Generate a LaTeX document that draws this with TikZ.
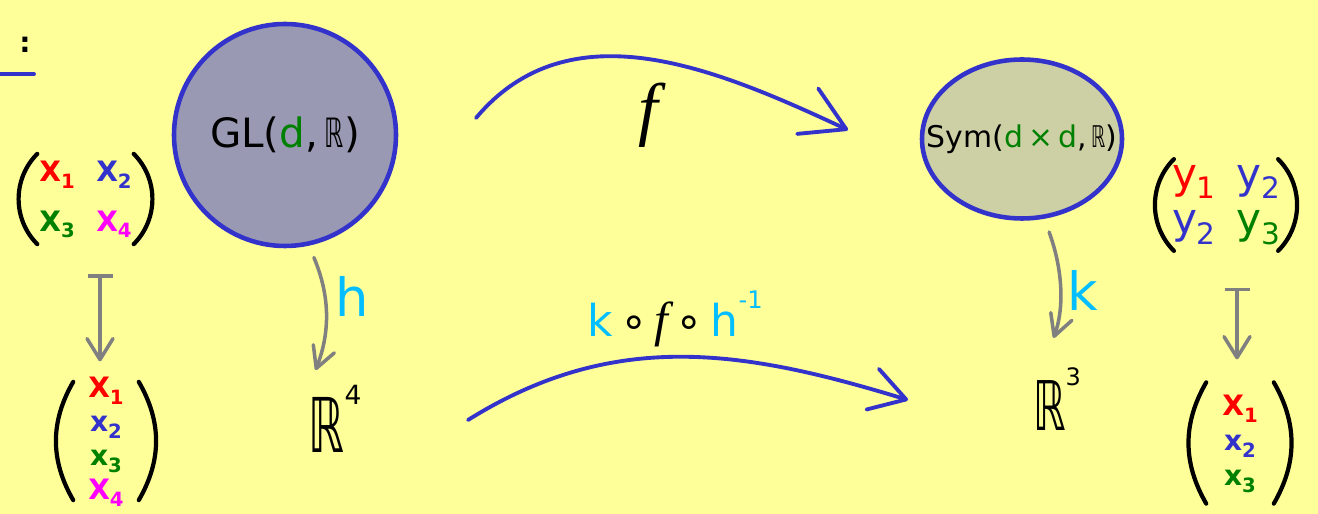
\documentclass[tikz,border=0pt]{standalone}
\usepackage{fontspec}
\setmainfont{DejaVu Sans}
\newfontfamily\ffamily{Liberation Serif}
\usepackage{amsmath}
\usepackage{tikz}
\usetikzlibrary{arrows.meta, positioning, shapes.geometric, matrix, calc}
\definecolor{bgyellow}{RGB}{255, 255, 153}
\definecolor{penblue}{RGB}{51, 51, 204}
\definecolor{penred}{RGB}{255, 0, 0}
\definecolor{pengreen}{RGB}{0, 128, 0}
\definecolor{penmag}{RGB}{255, 0, 255}
\definecolor{pencyan}{RGB}{0, 190, 255}
\definecolor{pengray}{RGB}{128, 128, 128}
\definecolor{glfill}{RGB}{153, 153, 179}
\definecolor{symfill}{RGB}{205, 207, 165}
\newcommand\lowidx[1]{\raisebox{-0.45ex}{\scalebox{0.7}{#1}}}
\newcommand\upidx[2][1.1ex]{\raisebox{#1}{\scalebox{0.35}{#2}}}
\newcommand\dblR{\scalebox{0.6}[1]{ℝ}}
\newcommand\fsym{{\ffamily\itshape f}}

\begin{document}
\begin{tikzpicture}[
    set/.style={draw=penblue, line width=2.6pt, inner sep=0pt},
    mat/.style={matrix of nodes, inner sep=0pt,
        nodes={inner sep=1pt, font=\fontsize{16}{18}\selectfont\bfseries,
               text height=0.42cm, text depth=0.12cm}},
    paren/.style={line width=2.4pt, line cap=round},
    mapsto/.style={pengray, line width=2pt,
        {Bar[width=0.5cm]}-{Straight Barb[length=0.42cm,width=0.52cm,round]}},
    proj/.style={pengray, line width=2pt, line cap=round,
        -{Straight Barb[length=0.42cm,width=0.45cm,round]}},
    map/.style={penblue, line width=2.2pt, line cap=round},
    lbl/.style={font=\fontsize{30}{32}\selectfont}
]
% background
\fill[bgyellow] (0,0) rectangle (26.36,10.28);
\useasboundingbox (0,0) rectangle (26.36,10.28);

% corner remnant
\node[font=\fontsize{16}{18}\selectfont\bfseries] (colon) at (0.5,9.38) {:};
\coordinate (ulend) at (0.68,8.8);
\draw[map] (0,8.8) -- (ulend);

% the two sets
\node[set, circle, fill=glfill, minimum size=4.44cm,
      font=\fontsize{23}{25}\selectfont] (gl) at (5.7,7.58)
      {GL(\textcolor{pengreen}{d},\,\dblR)};
\node[set, ellipse, fill=symfill, minimum width=4cm,
      minimum height=3.18cm] (sym) at (20.44,7.5) {};
\node[font=\fontsize{17}{19}\selectfont] (symlbl) at (sym)
      {Sym(\textcolor{pengreen}{d\,×\,d},\,\dblR)};

% coordinate spaces
\node[font=\fontsize{43}{45}\selectfont] (r4) at (6.7,1.9)
      {\dblR\upidx[1.15ex]{4}};
\node[font=\fontsize{39}{41}\selectfont] (r3) at (21.14,2.3)
      {\dblR\upidx[1.2ex]{3}};

% matrices and vectors
\matrix[mat, column sep=0.36cm, row sep=0.37cm, inner ysep=0.1cm] (lm) at (1.71,6.3) {
  |[text=penred]| X\lowidx{1} & |[text=penblue]| X\lowidx{2} \\
  |[text=pengreen]| X\lowidx{3} & |[text=penmag]| X\lowidx{4} \\
};
\draw[paren] (lm.north west) to[bend right=45] (lm.south west);
\draw[paren] (lm.north east) to[bend left=45] (lm.south east);

\matrix[mat, row sep=0.07cm, inner xsep=0.26cm, inner ysep=-0.15cm] (lv) at (2.12,1.46) {
  |[text=penred]| X\lowidx{1} \\
  |[text=penblue]| x\lowidx{2} \\
  |[text=pengreen]| x\lowidx{3} \\
  |[text=penmag]| X\lowidx{4} \\
};
\draw[paren] (lv.north west) to[bend right=30] (lv.south west);
\draw[paren] (lv.north east) to[bend left=30] (lv.south east);

\matrix[mat, column sep=0.34cm, row sep=0.16cm, inner xsep=-0.08cm, inner ysep=0.08cm,
    nodes={font=\fontsize{24}{26}\selectfont, text height=0.46cm, text depth=0.22cm}]
    (rm) at (24.52,6.18) {
  |[text=penred]| y\lowidx{1} & |[text=penblue]| y\lowidx{2} \\
  |[text=penblue]| y\lowidx{2} & |[text=pengreen]| y\lowidx{3} \\
};
\draw[paren] (rm.north west) to[bend right=45] (rm.south west);
\draw[paren] (rm.north east) to[bend left=45] (rm.south east);

\matrix[mat, row sep=0.09cm, inner xsep=0.28cm, inner ysep=0.2cm] (rv) at (24.8,1.42) {
  |[text=penred]| X\lowidx{1} \\
  |[text=penblue]| x\lowidx{2} \\
  |[text=pengreen]| x\lowidx{3} \\
};
\draw[paren] (rv.north west) to[bend right=30] (rv.south west);
\draw[paren] (rv.north east) to[bend left=30] (rv.south east);

% entry-wise maps
\draw[mapsto, shorten <=0.6cm, shorten >=0.41cm]
    ([xshift=-0.12cm]lv.north |- lm.south) -- ([xshift=-0.12cm]lv.north);
\draw[mapsto, shorten <=0.74cm, shorten >=0.46cm]
    ([xshift=-0.06cm]rv.north |- rm.south) -- ([xshift=-0.06cm]rv.north);

% charts
\draw[proj, shorten <=0.2cm, shorten >=0.2cm]
    ([xshift=0.5cm]gl.south) to[bend left=22] ([xshift=-0.46cm]r4.north);
\node[lbl, text=pencyan] (hlbl) at (7.04,4.36) {h};
\draw[proj, shorten <=0.24cm, shorten >=0.5cm]
    ([xshift=0.46cm]sym.south) to[bend left=20] ([xshift=-0.24cm]r3.north);
\node[lbl, text=pencyan] (klbl) at (21.66,4.48) {k};

% the map f and its coordinate version
\coordinate (fa) at (9.52,7.92);
\coordinate (fb) at (16.96,7.68);
\draw[map, -{Straight Barb[length=0.85cm,width=1cm,round]}]
    (fa) to[out=50, in=155] (fb);
\node[font=\fontsize{40}{42}\selectfont] (flbl) at (12.96,7.98) {\fsym};

\coordinate (ga) at (9.36,1.88);
\coordinate (gb) at (18.16,2.28);
\draw[map, -{Straight Barb[length=0.7cm,width=0.85cm,round]}]
    (ga) to[out=32, in=163] (gb);
\node[font=\fontsize{25}{27}\selectfont] (kfhlbl) at (13.5,3.9)
    {\textcolor{pencyan}{k}\,∘\,{\fontsize{28}{30}\selectfont\fsym}\,∘\,\textcolor{pencyan}{h\raisebox{1.2ex}{\scalebox{0.55}{-1}}}};
\end{tikzpicture}
\end{document}
